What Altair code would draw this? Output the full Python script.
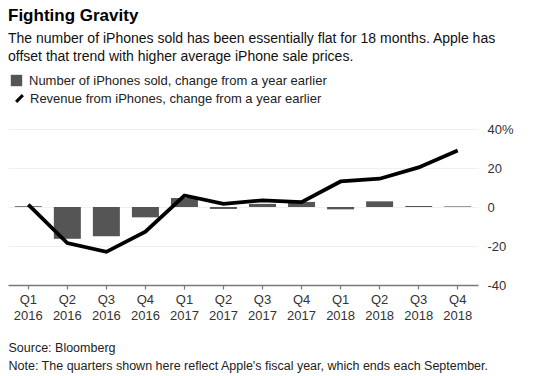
import altair as alt
import pandas as pd

quarters = ["Q1 2016", "Q2 2016", "Q3 2016", "Q4 2016",
            "Q1 2017", "Q2 2017", "Q3 2017", "Q4 2017",
            "Q1 2018", "Q2 2018", "Q3 2018", "Q4 2018"]
units_change = [0.4, -16.3, -15.0, -5.3, 4.6, -1.0, 1.6, 2.6, -1.2, 2.9, 0.5, 0.3]
revenue_change = [1.2, -18.5, -23.0, -12.6, 5.9, 1.6, 3.4, 2.5, 13.1, 14.5, 20.3, 29.0]

bar_label = "Number of iPhones sold, change from a year earlier"
line_label = "Revenue from iPhones, change from a year earlier"

df = pd.DataFrame({
    "quarter": quarters,
    "units": units_change,
    "revenue": revenue_change,
    "bar_series": [bar_label] * len(quarters),
    "line_series": [line_label] * len(quarters),
})

FONT = "Liberation Sans"

x = alt.X("quarter:N", sort=quarters, scale=alt.Scale(paddingInner=0.3, paddingOuter=0.17),
          axis=alt.Axis(title=["Source: Bloomberg",
                               "Note: The quarters shown here reflect Apple's fiscal year, which ends each September."],
                        labelExpr="split(datum.label, ' ')", labelAngle=0,
                        labelFont=FONT, labelFontSize=13, labelColor="#333333", labelLineHeight=16,
                        labelPadding=4, tickSize=4, tickColor="#777777", tickWidth=1.2,
                        domainColor="#777777", domainWidth=1.5, grid=False,
                        titleFont=FONT, titleFontSize=12.5, titleFontWeight="normal", titleColor="#222222",
                        titleAnchor="start", titleAlign="left", titleX=0, titleY=56,
                        titleLineHeight=18, titleBaseline="top"))

y_scale = alt.Scale(domain=[-40, 40], nice=False)
y_axis = alt.Axis(title=None, orient="right", values=[-40, -20, 0, 20, 40],
                  labelExpr="datum.value == 40 ? '40%' : replace(datum.label, '\u2212', '-')",
                  labelFont=FONT, labelFontSize=13, labelColor="#333333", labelPadding=9,
                  labelOverlap=False,
                  ticks=False, domain=False, grid=True, gridColor="#f0f0f0", gridWidth=1)

bars = alt.Chart(df).mark_bar(size=27).encode(
    x=x,
    y=alt.Y("units:Q", scale=y_scale, axis=y_axis),
    color=alt.Color("bar_series:N", scale=alt.Scale(range=["#555555"]),
                    legend=alt.Legend(title=None, orient="none", legendX=2, legendY=-55,
                                      symbolType="square", symbolSize=130, symbolStrokeWidth=0,
                                      labelFont=FONT, labelFontSize=13, labelColor="#222222",
                                      labelLimit=500, padding=0, labelOffset=6)),
)

line = alt.Chart(df).mark_line(strokeWidth=3.8, color="black").encode(
    x=x,
    y=alt.Y("revenue:Q", scale=y_scale, axis=y_axis),
    stroke=alt.Stroke("line_series:N", scale=alt.Scale(range=["#000000"]),
                      legend=alt.Legend(title=None, orient="none", legendX=3, legendY=-39,
                                        symbolType="M-0.5,0.5L0.5,-0.5", symbolSize=180,
                                        symbolStrokeWidth=3, symbolStrokeColor="black",
                                        labelFont=FONT, labelFontSize=13, labelColor="#222222",
                                        labelLimit=500, padding=0, labelOffset=2)),
)

chart = alt.layer(bars, line).resolve_scale(color="independent", stroke="independent").properties(
    width=470, height=156,
    background="white",
    padding={"left": 8, "top": 7, "right": 5, "bottom": 5},
    title=alt.TitleParams(
        text="Fighting Gravity",
        subtitle=["The number of iPhones sold has been essentially flat for 18 months. Apple has",
                  "offset that trend with higher average iPhone sale prices."],
        anchor="start", frame="group", font=FONT, fontSize=17, fontWeight="bold", color="#000000",
        subtitleFont=FONT, subtitleFontSize=14, subtitleColor="#111111", subtitleLineHeight=18,
        subtitlePadding=7, offset=9,
    ),
).configure_view(stroke=None)

chart.save("out.html", embed_options={"renderer": "svg", "actions": False})
